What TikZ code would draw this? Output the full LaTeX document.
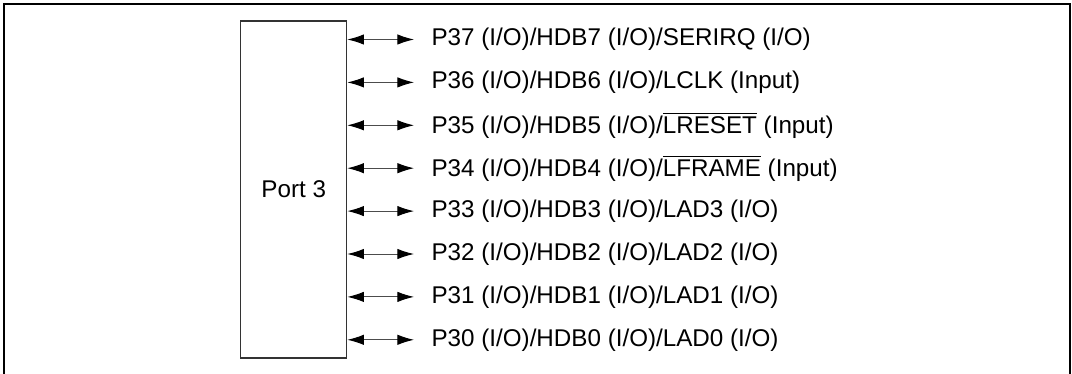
\documentclass[tikz,border=0pt]{standalone}
\usepackage{fontspec}
\setmainfont{Liberation Sans}
\usetikzlibrary{arrows.meta}

\tikzset{
  portbox/.style={draw=black!80, line width=0.6pt, minimum width=53pt, minimum height=168.5pt, inner sep=0pt},
  pinlabel/.style={anchor=west, inner xsep=8.6pt, inner ysep=0pt},
  pinarrow/.style={line width=0.5pt, draw=black!70, {Latex[length=8.3pt,width=5.2pt,black]}-{Latex[length=8.3pt,width=5.2pt,black]}}
}

\begin{document}
\begin{tikzpicture}[x=0.5pt,y=-0.5pt,font=\fontsize{12.1pt}{14pt}\selectfont]
    \useasboundingbox (0,0) rectangle (1072,374);
    % outer frame, open at the bottom
    \draw[line width=1.1pt] (4,376) -- (4,4) -- (1070,4) -- (1070,376);
    \node[portbox] (port) at (293.7,189.5) {Port 3};
    % pin labels
    \draw (414,39.5) node[pinlabel] (p37) {P37 (I/O)/HDB7 (I/O)/SERIRQ (I/O)};
    \draw (414,82.4) node[pinlabel] (p36) {P36 (I/O)/HDB6 (I/O)/LCLK (Input)};
    \draw (414,125.3) node[pinlabel] (p35) {P35 (I/O)/HDB5 (I/O)/$\overline{\hbox{LRESET}}$ (Input)};
    \draw (414,168.2) node[pinlabel] (p34) {P34 (I/O)/HDB4 (I/O)/$\overline{\hbox{LFRAME}}$ (Input)};
    \draw (414,211.1) node[pinlabel] (p33) {P33 (I/O)/HDB3 (I/O)/LAD3 (I/O)};
    \draw (414,254.0) node[pinlabel] (p32) {P32 (I/O)/HDB2 (I/O)/LAD2 (I/O)};
    \draw (414,296.9) node[pinlabel] (p31) {P31 (I/O)/HDB1 (I/O)/LAD1 (I/O)};
    \draw (414,339.8) node[pinlabel] (p30) {P30 (I/O)/HDB0 (I/O)/LAD0 (I/O)};
    % arrows
    \draw[pinarrow] (p37.west -| port.east) -- (p37.west);
    \draw[pinarrow] (p36.west -| port.east) -- (p36.west);
    \draw[pinarrow] (p35.west -| port.east) -- (p35.west);
    \draw[pinarrow] (p34.west -| port.east) -- (p34.west);
    \draw[pinarrow] (p33.west -| port.east) -- (p33.west);
    \draw[pinarrow] (p32.west -| port.east) -- (p32.west);
    \draw[pinarrow] (p31.west -| port.east) -- (p31.west);
    \draw[pinarrow] (p30.west -| port.east) -- (p30.west);
\end{tikzpicture}
\end{document}
